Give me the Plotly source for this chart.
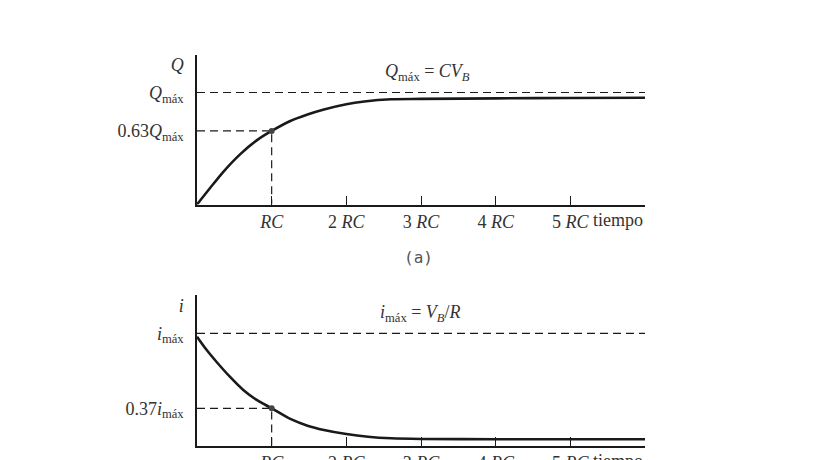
import plotly.graph_objects as go

# values (time in units of RC, charge/current relative to the max line)
t_carga = [0, 0.17, 0.35, 0.58, 0.80, 1.0, 1.25, 1.48, 1.70, 2.0, 2.24, 2.6, 3.0, 4.0, 5.0, 6.0]
q_carga = [0, 0.143, 0.29, 0.45, 0.573, 0.657, 0.746, 0.804, 0.849, 0.896, 0.92, 0.94, 0.943, 0.948, 0.951, 0.953]

t_desc = [0, 0.13, 0.26, 0.44, 0.62, 0.80, 1.0, 1.25, 1.48, 1.70, 2.0, 2.29, 2.6, 3.0, 4.0, 5.0, 6.0]
i_desc = [0.97, 0.851, 0.747, 0.614, 0.496, 0.407, 0.333, 0.238, 0.178, 0.14, 0.104, 0.08, 0.066, 0.06, 0.058, 0.057, 0.057]

t_marca = 1.0
q_marca = 0.657
i_marca = 0.333
nivel_max = 1.0
t_fin = 6.0

x_ticks = [1, 2, 3, 4, 5]
x_labels = ['<i>RC</i>', '2 <i>RC</i>', '3 <i>RC</i>', '4 <i>RC</i>', '5 <i>RC</i>']

q_ticks = [q_marca, nivel_max, 1.245]
q_labels = ['0.63<i>Q</i><sub>máx</sub>', '<i>Q</i><sub>máx</sub>', '<i>Q</i>']
i_ticks = [i_marca, nivel_max, 1.25]
i_labels = ['0.37<i>i</i><sub>máx</sub>', '<i>i</i><sub>máx</sub>', '<i>i</i>']

FONT = 'Liberation Serif'
INK = '#1a1a1a'
DASH = '8px,5px'

fig = go.Figure()


def add_panel(xa, ya, t, v, mark):
    # dashed max line
    fig.add_trace(go.Scatter(x=[0, t_fin], y=[nivel_max, nivel_max], mode='lines',
                             line=dict(color=INK, width=1.2, dash=DASH),
                             xaxis=xa, yaxis=ya, hoverinfo='skip'))
    # dashed guide to the point at t = RC
    fig.add_trace(go.Scatter(x=[0, t_marca, t_marca], y=[mark, mark, 0], mode='lines',
                             line=dict(color=INK, width=1.2, dash=DASH),
                             xaxis=xa, yaxis=ya, hoverinfo='skip'))
    # curve
    fig.add_trace(go.Scatter(x=t, y=v, mode='lines',
                             line=dict(color=INK, width=2.6, shape='spline', smoothing=0.8),
                             xaxis=xa, yaxis=ya))
    fig.add_trace(go.Scatter(x=[t_marca], y=[mark], mode='markers',
                             marker=dict(color='#444', size=6),
                             xaxis=xa, yaxis=ya))


add_panel('x', 'y', t_carga, q_carga, q_marca)
add_panel('x2', 'y2', t_desc, i_desc, i_marca)

xdom = [197 / 819, 645 / 819]
top_dom = [1 - 204.5 / 460, 1 - 55 / 460]
bot_dom = [1 - 445.7 / 460, 1 - 295 / 460]

xaxis_style = dict(range=[0, t_fin], domain=xdom, showgrid=False, zeroline=False,
                   showline=True, linecolor=INK, linewidth=1.5, automargin=False,
                   ticks='inside', ticklen=9, tickwidth=1.2, tickcolor=INK,
                   tickvals=x_ticks, ticktext=x_labels,
                   tickfont=dict(family=FONT, size=18, color='#333'))
yaxis_style = dict(showgrid=False, zeroline=False, showline=True, linecolor=INK, linewidth=1.5,
                   automargin=False, ticks='', tickfont=dict(family=FONT, size=18, color='#333'),
                   ticklabelstandoff=8)

fig.update_layout(
    width=819, height=460,
    margin=dict(l=0, r=0, t=0, b=0, pad=0),
    paper_bgcolor='white', plot_bgcolor='white',
    showlegend=False,
    xaxis=dict(anchor='y', **xaxis_style),
    yaxis=dict(anchor='x', domain=top_dom, range=[0, 1.335],
               tickvals=q_ticks, ticktext=q_labels, **yaxis_style),
    xaxis2=dict(anchor='y2', **xaxis_style),
    yaxis2=dict(anchor='x2', domain=bot_dom, range=[0, 1.341],
                tickvals=i_ticks, ticktext=i_labels, **yaxis_style),
)

notes = [
    dict(text='<i>Q</i><sub>máx</sub> = <i>CV<sub>B</sub></i>', x=427 / 819, y=1 - 72 / 460),
    dict(text='<i>i</i><sub>máx</sub> = <i>V<sub>B</sub></i>/<i>R</i>', x=421 / 819, y=1 - 313 / 460),
    dict(text='tiempo', x=618 / 819, y=1 - 220 / 460),
    dict(text='tiempo', x=618 / 819, y=1 - 461 / 460),
]
for n in notes:
    fig.add_annotation(showarrow=False, xref='paper', yref='paper', xanchor='center', yanchor='middle',
                       font=dict(family=FONT, size=18, color='#333'), **n)

fig.add_annotation(text='(a)', xref='paper', yref='paper', x=419 / 819, y=1 - 257 / 460,
                   xanchor='center', yanchor='middle', showarrow=False,
                   font=dict(family='DejaVu Sans Mono', size=16, color='#555'))

# the page body has a default 8px margin; drop it so the figure sits at the window corner
fig.write_html('out.html', config={'displayModeBar': False},
               post_script="document.body.style.margin='0px';")
